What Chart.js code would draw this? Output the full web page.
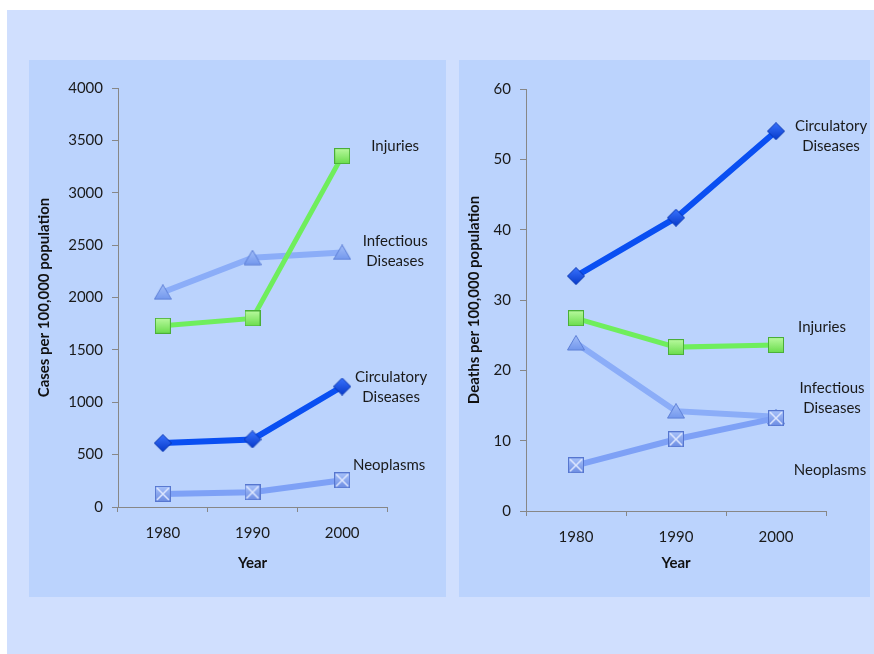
<!DOCTYPE html>
<html>
<head>
<meta charset="utf-8">
<script src="https://cdn.jsdelivr.net/npm/chart.js@4/dist/chart.umd.min.js"></script>
<style>
  html, body { margin: 0; padding: 0; background: #ffffff; }
  body { width: 874px; height: 654px; position: relative; overflow: hidden; font-family: Lato, "Open Sans", sans-serif; }
  #backdrop { position: absolute; left: 7px; top: 10px; width: 867px; height: 644px; background: #d0dffe; }
  .panel { position: absolute; top: 60px; height: 537px; background: #bbd3fd; }
  #casesPanel { left: 29px; width: 417px; }
  #deathsPanel { left: 459px; width: 411px; }
  canvas { display: block; }
</style>
</head>
<body>
<div id="backdrop"></div>
<div class="panel" id="casesPanel"><canvas id="casesChart" width="417" height="537"></canvas></div>
<div class="panel" id="deathsPanel"><canvas id="deathsChart" width="411" height="537"></canvas></div>
<script>
// Census years on the category axis
const years = ['1980', '1990', '2000'];

// Cases per 100,000 population
const casesInfectious = [2050, 2380, 2430];
const casesInjuries = [1730, 1800, 3350];
const casesCirculatory = [610, 645, 1150];
const casesNeoplasms = [125, 140, 255];

// Deaths per 100,000 population
const deathsCirculatory = [33.4, 41.7, 54.0];
const deathsInjuries = [27.4, 23.3, 23.6];
const deathsInfectious = [23.9, 14.2, 13.4];
const deathsNeoplasms = [6.5, 10.2, 13.2];

// Y axis tick settings
const casesTicks = { min: 0, max: 4000, step: 500 };
const deathsTicks = { min: 0, max: 60, step: 10 };

const FONT = 'Lato, "Open Sans", sans-serif';

// Small bevelled marker images
function makeMarker(w, h, draw) {
  const c = document.createElement('canvas');
  c.width = w; c.height = h;
  draw(c.getContext('2d'), w, h);
  return c;
}
const diamondMarker = makeMarker(18, 18, (g, w, h) => {
  const gr = g.createLinearGradient(0, 0, 0, h);
  gr.addColorStop(0, '#3a74ff'); gr.addColorStop(1, '#0638c8');
  g.beginPath();
  g.moveTo(w / 2, 0.5); g.lineTo(w - 0.5, h / 2); g.lineTo(w / 2, h - 0.5); g.lineTo(0.5, h / 2); g.closePath();
  g.fillStyle = gr; g.fill();
  g.strokeStyle = '#0533b0'; g.lineWidth = 1; g.stroke();
});
const squareGreenMarker = makeMarker(16, 16, (g, w, h) => {
  const gr = g.createLinearGradient(0, 0, 0, h);
  gr.addColorStop(0, '#bafaa0'); gr.addColorStop(1, '#68dc4a');
  g.fillStyle = gr; g.fillRect(0.5, 0.5, w - 1, h - 1);
  g.strokeStyle = '#4aae38'; g.lineWidth = 1; g.strokeRect(0.5, 0.5, w - 1, h - 1);
});
const triangleMarker = makeMarker(18, 16, (g, w, h) => {
  const gr = g.createLinearGradient(0, 0, 0, h);
  gr.addColorStop(0, '#a3bff9'); gr.addColorStop(1, '#7095ec');
  g.beginPath();
  g.moveTo(w / 2, 0.5); g.lineTo(w - 0.5, h - 1); g.lineTo(0.5, h - 1); g.closePath();
  g.fillStyle = gr; g.fill();
  g.strokeStyle = '#5d7fd6'; g.lineWidth = 1; g.stroke();
});
const crossSquareMarker = makeMarker(16, 16, (g, w, h) => {
  const gr = g.createLinearGradient(0, 0, 0, h);
  gr.addColorStop(0, '#a9c3fb'); gr.addColorStop(1, '#6b8be2');
  g.fillStyle = gr; g.fillRect(0.5, 0.5, w - 1, h - 1);
  g.strokeStyle = '#5676cf'; g.lineWidth = 1; g.strokeRect(0.5, 0.5, w - 1, h - 1);
  g.strokeStyle = '#dfe8ff'; g.lineWidth = 1.5;
  g.beginPath(); g.moveTo(2, 2); g.lineTo(w - 2, h - 2); g.moveTo(w - 2, 2); g.lineTo(2, h - 2); g.stroke();
});

// Series styles shared by both panels
const styles = {
  circulatory: { color: '#0a4ff2', width: 6, marker: diamondMarker },
  injuries: { color: '#6fee5c', width: 5, marker: squareGreenMarker },
  infectious: { color: '#8badf8', width: 6, marker: triangleMarker },
  neoplasms: { color: '#7ea1f6', width: 6, marker: crossSquareMarker }
};

function series(label, data, key) {
  const s = styles[key];
  return {
    label, data,
    borderColor: s.color, borderWidth: s.width,
    pointStyle: s.marker, pointRadius: 8, pointHoverRadius: 8,
    tension: 0, fill: false
  };
}

// Text labels placed beside the final point of each series
const seriesNotes = {
  id: 'seriesNotes',
  afterDraw(chart, args, opts) {
    const { ctx } = chart;
    const xs = chart.scales.x, ys = chart.scales.y;
    const x0 = xs.getPixelForValue(years.length - 1);
    ctx.save();
    ctx.font = '15px ' + FONT;
    ctx.fillStyle = '#1a1a1a';
    ctx.textAlign = 'center';
    ctx.textBaseline = 'middle';
    (opts.items || []).forEach(it => {
      const cy = ys.getPixelForValue(it.at);
      const lh = 20;
      const top = cy - (it.lines.length - 1) * lh / 2;
      it.lines.forEach((t, i) => ctx.fillText(t, x0 + it.dx, top + i * lh));
    });
    ctx.restore();
  }
};

function buildOptions(t, yTitle, pad, yWidth, xHeight, notes) {
  const axisColor = '#878787';
  return {
    responsive: false,
    animation: false,
    events: [],
    layout: { padding: pad },
    plugins: {
      legend: { display: false },
      tooltip: { enabled: false },
      seriesNotes: { items: notes }
    },
    scales: {
      x: {
        type: 'category',
        offset: true,
        grid: { display: true, drawOnChartArea: false, offset: true, tickLength: 5, color: axisColor },
        border: { display: true, color: axisColor, width: 1 },
        ticks: { color: '#1a1a1a', font: { family: FONT, size: 15 }, padding: 12, maxRotation: 0 },
        title: { display: true, text: 'Year', color: '#111', font: { family: FONT, size: 15, weight: 'bold' }, padding: { top: 0, bottom: 25 } },
        afterFit: s => { s.height = xHeight; }
      },
      y: {
        min: t.min, max: t.max,
        grid: { display: true, drawOnChartArea: false, tickLength: 6, color: axisColor },
        border: { display: true, color: axisColor, width: 1 },
        ticks: { stepSize: t.step, color: '#1a1a1a', font: { family: FONT, size: 15 }, padding: 9,
                 callback: v => String(v) },
        title: { display: true, text: yTitle, color: '#111', font: { family: FONT, size: 15, weight: 'bold' }, padding: { top: 6, bottom: 0 } },
        afterFit: s => { s.width = yWidth; }
      }
    }
  };
}

new Chart(document.getElementById('casesChart'), {
  type: 'line',
  data: {
    labels: years,
    datasets: [
      series('Neoplasms', casesNeoplasms, 'neoplasms'),
      series('Injuries', casesInjuries, 'injuries'),
      series('Circulatory Diseases', casesCirculatory, 'circulatory'),
      series('Infectious Diseases', casesInfectious, 'infectious')
    ]
  },
  options: buildOptions(casesTicks, 'Cases per 100,000 population',
    { top: 28, right: 59, left: 0, bottom: 0 }, 89, 90, [
      { lines: ['Injuries'], at: 3445, dx: 53 },
      { lines: ['Infectious', 'Diseases'], at: 2440, dx: 53 },
      { lines: ['Circulatory', 'Diseases'], at: 1140, dx: 49 },
      { lines: ['Neoplasms'], at: 400, dx: 47 }
    ]),
  plugins: [seriesNotes]
});

new Chart(document.getElementById('deathsChart'), {
  type: 'line',
  data: {
    labels: years,
    datasets: [
      series('Neoplasms', deathsNeoplasms, 'neoplasms'),
      series('Injuries', deathsInjuries, 'injuries'),
      series('Circulatory Diseases', deathsCirculatory, 'circulatory'),
      series('Infectious Diseases', deathsInfectious, 'infectious')
    ]
  },
  options: buildOptions(deathsTicks, 'Deaths per 100,000 population',
    { top: 29, right: 44, left: 0, bottom: 0 }, 67, 86, [
      { lines: ['Circulatory', 'Diseases'], at: 53.3, dx: 55 },
      { lines: ['Injuries'], at: 26.2, dx: 46 },
      { lines: ['Infectious', 'Diseases'], at: 16.1, dx: 56 },
      { lines: ['Neoplasms'], at: 5.8, dx: 54 }
    ]),
  plugins: [seriesNotes]
});
</script>
</body>
</html>
